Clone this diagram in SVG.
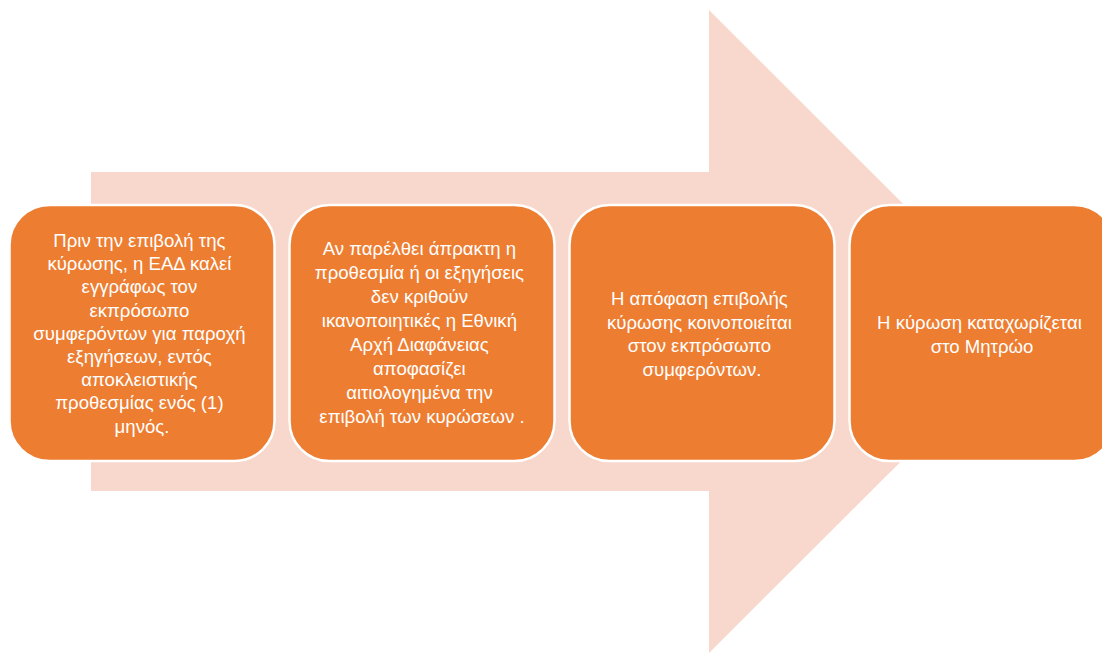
<svg xmlns="http://www.w3.org/2000/svg" width="1102" height="653" viewBox="0 0 1102 653">
<style>
.box{fill:#ED7D31;stroke:#FFFFFF;stroke-width:2.5}
.t{fill:#FFFFFF;font-family:"Liberation Sans","Noto Sans",sans-serif;font-size:18.6px;text-anchor:middle}
</style>
<rect width="1102" height="653" fill="#FFFFFF"/>
<g id="arrow">
<polygon points="91,172 709,172 709,10 1031,331.5 709,653 709,491 91,491" fill="#F8D7CC"/>
</g>
<g id="connectors"></g>
<g id="node1">
<rect class="box" x="9.5" y="205" width="265" height="256" rx="40"/>
<text class="t">
<tspan x="142" y="247">Πριν την επιβολή της</tspan>
<tspan x="142" y="270.2">κύρωσης, η ΕΑΔ καλεί</tspan>
<tspan x="142" y="293.4">εγγράφως τον</tspan>
<tspan x="142" y="316.6">εκπρόσωπο</tspan>
<tspan x="142" y="339.8">συμφερόντων για παροχή</tspan>
<tspan x="142" y="363">εξηγήσεων, εντός</tspan>
<tspan x="142" y="386.2">αποκλειστικής</tspan>
<tspan x="142" y="409.4">προθεσμίας ενός (1)</tspan>
<tspan x="142" y="432.6">μηνός.</tspan>
</text>
</g>
<g id="node2">
<rect class="box" x="289.5" y="205" width="265" height="256" rx="40"/>
<text class="t">
<tspan x="422" y="255">Αν παρέλθει άπρακτη η</tspan>
<tspan x="422" y="279">προθεσμία ή οι εξηγήσεις</tspan>
<tspan x="422" y="303">δεν κριθούν</tspan>
<tspan x="422" y="327">ικανοποιητικές η Εθνική</tspan>
<tspan x="422" y="351">Αρχή Διαφάνειας</tspan>
<tspan x="422" y="375">αποφασίζει</tspan>
<tspan x="422" y="399">αιτιολογημένα την</tspan>
<tspan x="422" y="423">επιβολή των κυρώσεων .</tspan>
</text>
</g>
<g id="node3">
<rect class="box" x="569.5" y="205" width="265" height="256" rx="40"/>
<text class="t">
<tspan x="702" y="305">Η απόφαση επιβολής</tspan>
<tspan x="702" y="328.5">κύρωσης κοινοποιείται</tspan>
<tspan x="702" y="352">στον εκπρόσωπο</tspan>
<tspan x="702" y="375.5">συμφερόντων.</tspan>
</text>
</g>
<g id="node4">
<rect class="box" x="849.5" y="205" width="265" height="256" rx="40"/>
<text class="t">
<tspan x="982" y="328.5">Η κύρωση καταχωρίζεται</tspan>
<tspan x="982" y="352.5">στο Μητρώο</tspan>
</text>
</g>
</svg>
